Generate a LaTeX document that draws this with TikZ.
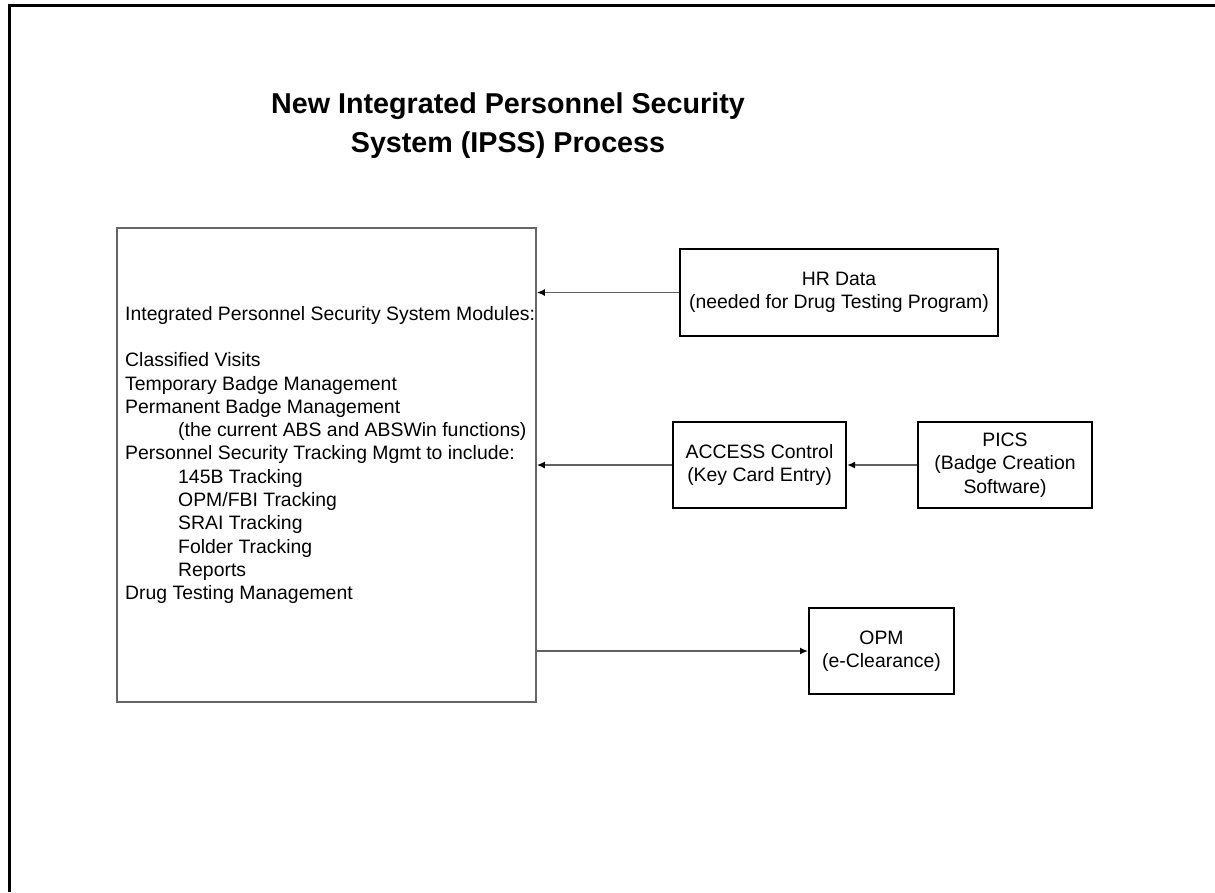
\documentclass[tikz,border=0pt]{standalone}
\usepackage{fontspec}
\setmainfont{Liberation Sans}
\usetikzlibrary{arrows.meta, positioning, calc}

\begin{document}
\begin{tikzpicture}[
    x=1pt, y=-1pt,
    line join = miter,
    every node/.style={inner sep=0pt},
    txt/.style={font=\fontsize{19.4}{23.3}\selectfont},
    sysbox/.style={draw, line width=2pt, align=center, txt},
    feed/.style={draw=black!62, line width=1.6pt,
        -{Latex[length=8pt, width=7pt, color=black]}}
    ]

    % Determines the boundries
    \path[use as bounding box] (0,0) rectangle (1215,892);

    \def\ind{\hspace*{53pt}}   % indent of the sub items

    % Frame of the slide (only top and left show)
    \coordinate (FB) at (9,892);
    \coordinate (FC) at (9,5);
    \coordinate (FR) at (1215,5);
    \draw[line width = 3pt] (FB) -- (FC) -- (FR);

    % Title
    \node (title) [anchor=north, align=center,
        font=\bfseries\fontsize{28.7}{39}\selectfont] at (508,92.1)
        {New Integrated Personnel Security\\System (IPSS) Process};

    % Main box and its modules
    \node (ipss) [draw=black!60, line width=1.6pt,
        minimum width=419pt, minimum height=474pt] at (326.5,465) {};

    \node (mods) [anchor=north west, align=left, txt] at (125,305.9)
        {Integrated Personnel Security System Modules:\\[23.3pt]
         Classified Visits\\
         Temporary Badge Management\\
         Permanent Badge Management\\
         \ind(the current ABS and ABSWin functions)\\
         Personnel Security Tracking Mgmt to include:\\
         \ind 145B Tracking\\
         \ind OPM/FBI Tracking\\
         \ind SRAI Tracking\\
         \ind Folder Tracking\\
         \ind Reports\\
         Drug Testing Management};

    % Outside systems
    \node (hr) [sysbox, minimum width=318pt, minimum height=87pt]
        at (839,292.5) {HR Data\\(needed for Drug Testing Program)};
    \node (acc) [sysbox, minimum width=173pt, minimum height=86pt]
        at (759.5,465) {ACCESS Control\\(Key Card Entry)};
    \node (pics) [sysbox, minimum width=174pt, minimum height=86pt]
        at (1005,465) {PICS\\(Badge Creation\\Software)};
    \node (opm) [sysbox, minimum width=145pt, minimum height=86pt]
        at (881.5,651) {OPM\\(e-Clearance)};

    % Data flows
    \draw[feed] (hr.west) -- (hr.west -| ipss.east);
    \draw[feed] (acc.west) -- (acc.west -| ipss.east);
    \draw[feed] (pics.west) -- (acc.east);
    \draw[feed] (ipss.east |- opm.west) -- (opm.west);

\end{tikzpicture}
\end{document}
